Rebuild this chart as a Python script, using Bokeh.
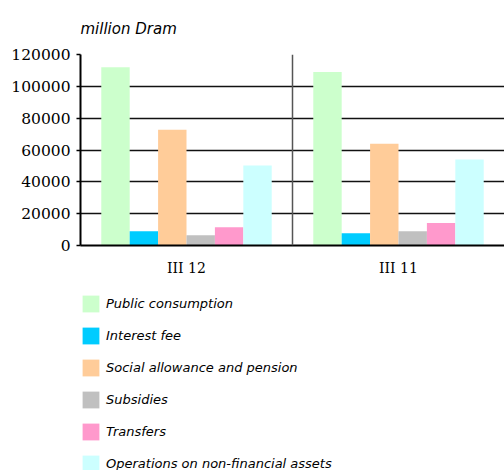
from bokeh.plotting import figure
from bokeh.layouts import column
from bokeh.models import (FactorRange, Span, Legend, LegendItem, ColumnDataSource,
                          BasicTickFormatter, FixedTicker)
from bokeh.transform import dodge
from bokeh.embed import file_html
from bokeh.resources import INLINE

periods = ["III 12", "III 11"]
series = ["Public consumption", "Interest fee", "Social allowance and pension",
          "Subsidies", "Transfers", "Operations on non-financial assets"]
colors = ["#ccffcc", "#00ccff", "#ffcc99", "#c0c0c0", "#ff99cc", "#ccffff"]
public_consumption = [112000, 109000]
interest_fee = [9000, 7700]
social_allowance = [72700, 64000]
subsidies = [6400, 8900]
transfers = [11400, 14100]
non_financial = [50200, 54100]
values = [public_consumption, interest_fee, social_allowance, subsidies, transfers, non_financial]
y_ticks = [0, 20000, 40000, 60000, 80000, 100000, 120000]

src = ColumnDataSource(dict(period=periods, **{f"s{i}": v for i, v in enumerate(values)}))

p = figure(x_range=FactorRange(factors=periods, range_padding=0), y_range=(0, 120000),
           width=504, height=278, output_backend="svg", toolbar_location=None,
           min_border_left=80, min_border_right=0, min_border_top=54, min_border_bottom=32)

p.title.text = "million Dram"
p.title.text_font = "DejaVu Sans"
p.title.text_font_style = "italic"
p.title.text_font_size = "15px"
p.title.text_color = "#000000"
p.title.align = "left"
p.title.offset = 0
p.title.standoff = 33

bw = 0.134
for i, col in enumerate(colors):
    p.vbar(x=dodge("period", (i - 2.5) * bw, range=p.x_range), top=f"s{i}", width=bw,
           source=src, fill_color=col, line_color=None)

p.add_layout(Span(location=1, dimension="height", line_color="#555555", line_width=1.5))

p.outline_line_color = None
p.xgrid.grid_line_color = None
p.ygrid.grid_line_color = "#111111"
p.ygrid.grid_line_width = 1.3
p.yaxis.ticker = FixedTicker(ticks=y_ticks)
p.yaxis.formatter = BasicTickFormatter(use_scientific=False)
p.yaxis.axis_line_color = "#000000"
p.yaxis.axis_line_width = 2
p.yaxis.major_tick_line_color = "#000000"
p.yaxis.major_tick_line_width = 1.5
p.yaxis.major_tick_out = 4
p.yaxis.major_tick_in = 0
p.yaxis.minor_tick_line_color = None
p.yaxis.major_label_text_font = "DejaVu Serif"
p.yaxis.major_label_text_font_size = "15.5px"
p.yaxis.major_label_text_color = "#000000"
p.yaxis.major_label_standoff = 6

p.xaxis.axis_line_color = "#000000"
p.xaxis.axis_line_width = 2
p.xaxis.major_tick_line_color = None
p.xaxis.major_label_text_font = "DejaVu Serif"
p.xaxis.major_label_text_font_size = "14px"
p.xaxis.major_label_text_color = "#000000"
p.xaxis.major_label_standoff = 8

# legend panel
p2 = figure(width=504, height=192, output_backend="svg", toolbar_location=None,
            x_axis_type=None, y_axis_type=None, x_range=(0, 1), y_range=(0, 1),
            min_border_left=0, min_border_right=0, min_border_top=0, min_border_bottom=0)
p2.outline_line_color = None
p2.xgrid.grid_line_color = None
p2.ygrid.grid_line_color = None
items = []
for name, col in zip(series, colors):
    r = p2.vbar(x=[-5], top=[0], width=0.001, fill_color=col, line_color=None)
    items.append(LegendItem(label=name, renderers=[r]))

legend = Legend(items=items, location=(0, -4), orientation="vertical",
                glyph_width=21, glyph_height=21, label_height=21, spacing=11,
                padding=0, margin=0, label_standoff=5, border_line_color=None,
                background_fill_alpha=0, label_text_font="DejaVu Sans",
                label_text_font_style="italic", label_text_font_size="13px",
                label_text_color="#000000")
p2.add_layout(legend, "center")

layout = column(p, p2, spacing=0)
open("out.html", "w").write(file_html(layout, INLINE))
